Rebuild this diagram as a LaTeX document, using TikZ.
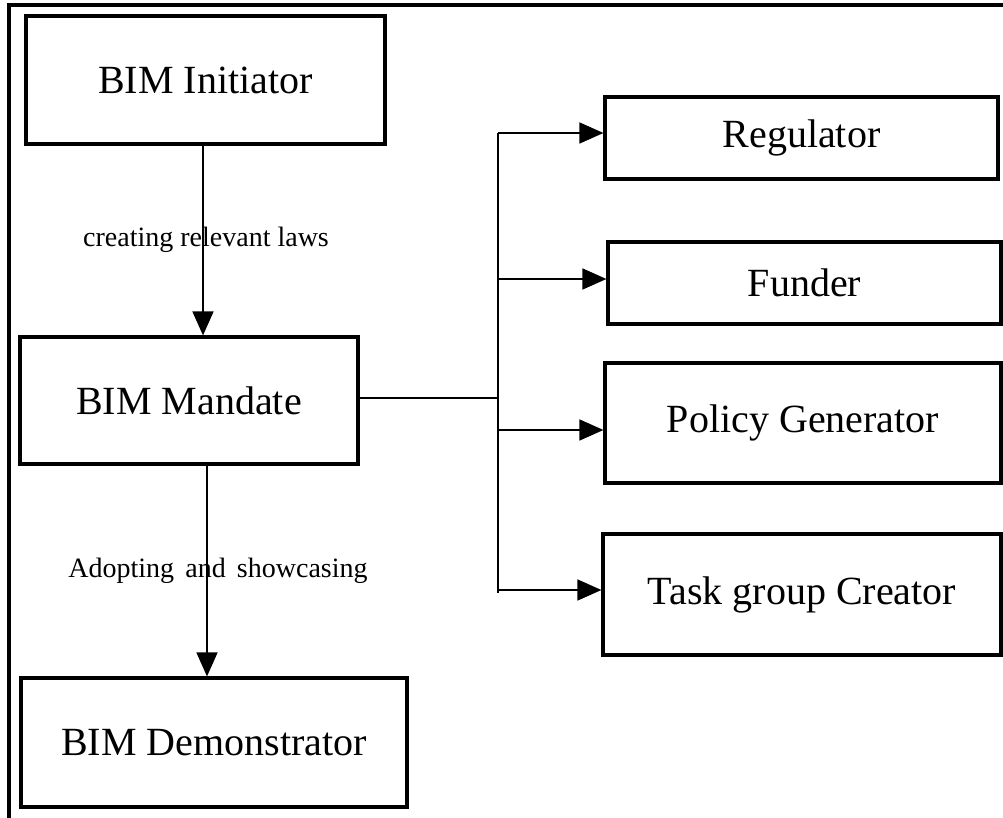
\documentclass[tikz,border=0pt]{standalone}
\usepackage{fontspec}
\setmainfont{Liberation Serif}
\usetikzlibrary{arrows.meta}
\begin{document}
\begin{tikzpicture}[x=1pt,y=-1pt,
  box/.style={draw, line width=3.2pt, rectangle, inner sep=0pt, font=\fontsize{40}{48}\selectfont},
  lbl/.style={inner sep=0pt, font=\fontsize{28}{34}\selectfont},
  conn/.style={line width=1.6pt},
  arr/.style={conn, -{Triangle[length=24pt,width=21pt]}},
  frame/.style={line width=3.2pt}]
\useasboundingbox (0,0) rectangle (1003,818);
% partial outer frame
\draw[frame] (9,818) -- (9,5) -- (1003,5);
% boxes
\node[box, minimum width=359pt, minimum height=128pt] (init) at (205.5,80) {BIM Initiator};
\node[box, minimum width=338pt, minimum height=127pt] (mand) at (189,400.5) {BIM Mandate};
\node[box, minimum width=386pt, minimum height=129pt] (dem) at (214,742.5) {BIM Demonstrator};
\node[box, minimum width=393pt, minimum height=82pt] (reg) at (801.5,138) {Regulator};
\node[box, minimum width=393pt, minimum height=82pt] (fund) at (804.5,283) {Funder};
\node[box, minimum width=396pt, minimum height=120pt] (pol) at (803,423) {Policy Generator};
\node[box, minimum width=398pt, minimum height=121pt] (task) at (802,594.5) {Task group Creator};
% vertical arrows
\draw[arr] ([xshift=-2.5pt]init.south) -- ([xshift=-2.5pt]init.south |- mand.north);
\draw[arr] ([xshift=18pt]mand.south) -- ([xshift=18pt]mand.south |- dem.north);
\node[lbl] (l1) at (206,240) {creating relevant laws};
\node[lbl] (l2) at (218,571) {Adopting\hspace{0.15em} and\hspace{0.15em} showcasing};
% bus
\coordinate (bt) at (498,133);
\coordinate (b2) at (498,279);
\coordinate (b3) at (498,430);
\coordinate (b4) at (498,590);
\coordinate (bb) at (498,593);
\coordinate (bm) at (498,398);
\draw[conn] (bm -| mand.east) -- (bm);
\draw[conn] (bt) -- (bb);
\draw[arr] (bt) -- (bt -| reg.west);
\draw[arr] (b2) -- (b2 -| fund.west);
\draw[arr] (b3) -- (b3 -| pol.west);
\draw[arr] (b4) -- (b4 -| task.west);
\end{tikzpicture}
\end{document}
